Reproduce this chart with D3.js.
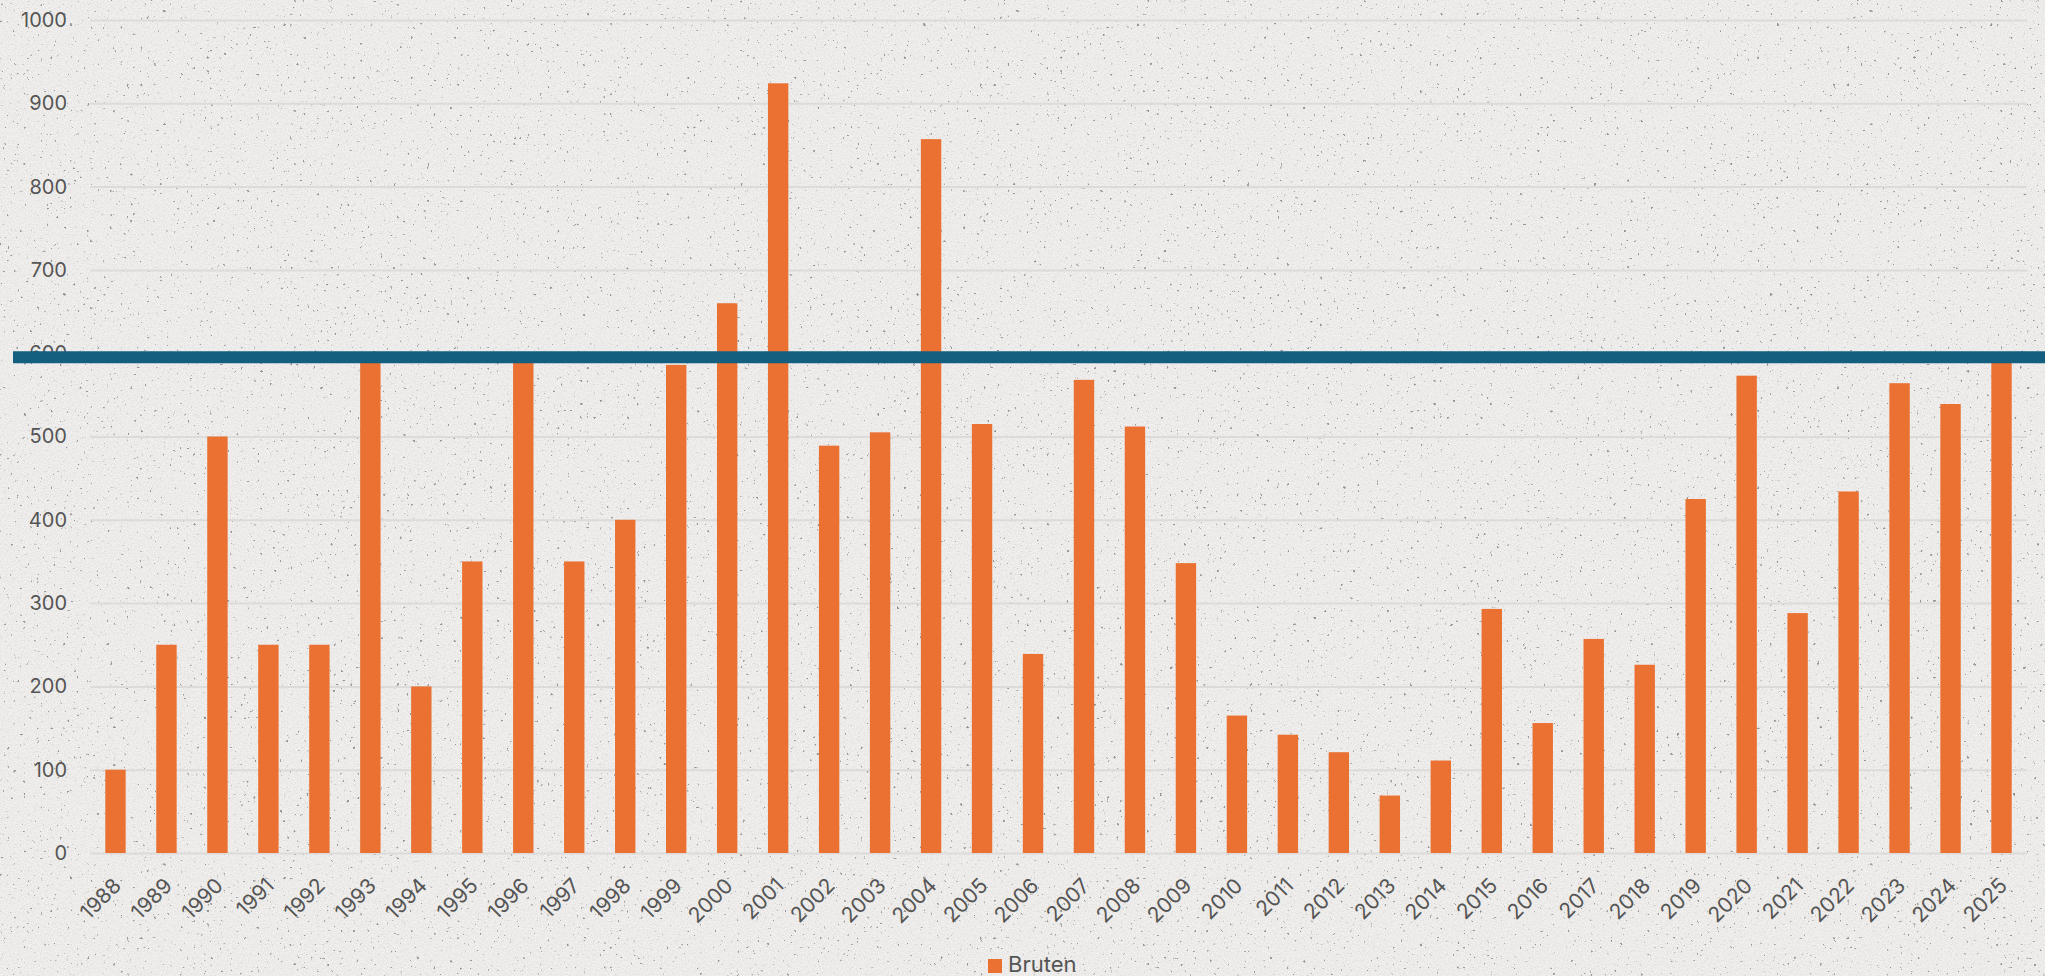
<!DOCTYPE html>
<html>
<head>
<meta charset="utf-8">
<script src="https://cdn.jsdelivr.net/npm/d3@7"></script>
<style>
  html, body { margin: 0; padding: 0; background: #f0efed; }
  svg { display: block; }
</style>
</head>
<body>
<svg id="chart"></svg>
<script>
const years = [
  '1988', '1989', '1990', '1991', '1992', '1993', '1994', '1995', '1996', '1997',
  '1998', '1999', '2000', '2001', '2002', '2003', '2004', '2005', '2006', '2007',
  '2008', '2009', '2010', '2011', '2012', '2013', '2014', '2015', '2016', '2017',
  '2018', '2019', '2020', '2021', '2022', '2023', '2024', '2025',
];
const bruten = [
  100, 250, 500, 250, 250, 600, 200, 350, 600, 350,
  400, 586, 660, 924, 489, 505, 857, 515, 239, 568,
  512, 348, 165, 142, 121, 69, 111, 293, 156, 257,
  226, 425, 573, 288, 434, 564, 539, 600,
];
const yTicks = [0, 100, 200, 300, 400, 500, 600, 700, 800, 900, 1000];
const targetLine = [595];
const seriesName = 'Bruten';

const svgWidth = 2045;
const svgHeight = 976;
const margin = { top: 20, right: 18, bottom: 123, left: 90 };
const fontFamily = 'Inter, "Liberation Sans", Arial, sans-serif';

const svg = d3.select('#chart')
    .attr('width', svgWidth)
    .attr('height', svgHeight);

// paper-like background
const defs = svg.append('defs');
const grain = defs.append('filter')
    .attr('id', 'grain')
    .attr('x', 0).attr('y', 0)
    .attr('width', '100%').attr('height', '100%');
grain.append('feTurbulence')
    .attr('type', 'fractalNoise')
    .attr('baseFrequency', 0.7)
    .attr('numOctaves', 3)
    .attr('seed', 7)
    .attr('result', 'noise');
grain.append('feColorMatrix')
    .attr('in', 'noise')
    .attr('type', 'matrix')
    .attr('values', '0 0 0 0 0.5  0 0 0 0 0.5  0 0 0 0 0.49  -0.8 0 0 0 0.46');

const specks = defs.append('filter')
    .attr('id', 'specks')
    .attr('x', 0).attr('y', 0)
    .attr('width', '100%').attr('height', '100%');
specks.append('feTurbulence')
    .attr('type', 'fractalNoise')
    .attr('baseFrequency', 0.3)
    .attr('numOctaves', 2)
    .attr('seed', 3)
    .attr('result', 'noise');
specks.append('feColorMatrix')
    .attr('in', 'noise')
    .attr('type', 'matrix')
    .attr('values', '0 0 0 0 0.3  0 0 0 0 0.3  0 0 0 0 0.3  12 0 0 0 -8.7');

svg.append('rect')
    .attr('width', svgWidth)
    .attr('height', svgHeight)
    .attr('fill', '#f0efed');
svg.append('rect')
    .attr('width', svgWidth)
    .attr('height', svgHeight)
    .attr('filter', 'url(#grain)');
svg.append('rect')
    .attr('width', svgWidth)
    .attr('height', svgHeight)
    .attr('filter', 'url(#specks)');

const x = d3.scaleBand()
    .domain(years)
    .range([margin.left, svgWidth - margin.right])
    .paddingInner(0.6)
    .paddingOuter(0.3);

const y = d3.scaleLinear()
    .domain([0, 1000])
    .range([svgHeight - margin.bottom, margin.top]);

// gridlines + y labels
const yAxis = svg.append('g')
    .attr('transform', `translate(${margin.left},0)`)
    .call(d3.axisLeft(y)
      .tickValues(yTicks)
      .tickSize(-(svgWidth - margin.left - margin.right))
      .tickPadding(23)
      .tickFormat(d3.format('d')));

yAxis.select('.domain').remove();
yAxis.selectAll('.tick line')
    .attr('stroke', '#dcdbd9')
    .attr('stroke-width', 2);
yAxis.selectAll('.tick text')
    .attr('fill', '#555')
    .attr('font-family', fontFamily)
    .attr('font-size', 20);

// bars
svg.append('g')
  .selectAll('rect')
  .data(bruten)
  .join('rect')
    .attr('x', (d, i) => x(years[i]))
    .attr('y', d => y(d))
    .attr('width', x.bandwidth())
    .attr('height', d => y(0) - y(d))
    .attr('fill', '#ea7132');

// x labels
const xAxis = svg.append('g')
    .attr('transform', `translate(0,${y(0)})`)
    .call(d3.axisBottom(x).tickSize(0).tickPadding(0));

xAxis.select('.domain').remove();
xAxis.selectAll('.tick text')
    .attr('fill', '#555')
    .attr('font-family', fontFamily)
    .attr('font-size', 21)
    .attr('text-anchor', 'end')
    .attr('dy', null)
    .attr('y', null)
    .attr('transform', 'translate(7,34) rotate(-45)');

// reference line
svg.append('g')
  .selectAll('line')
  .data(targetLine)
  .join('line')
    .attr('x1', 13)
    .attr('x2', svgWidth)
    .attr('y1', d => y(d))
    .attr('y2', d => y(d))
    .attr('stroke', '#145f80')
    .attr('stroke-width', 12);

// legend
const legend = svg.append('g')
    .attr('transform', 'translate(988,959)');

legend.append('rect')
    .attr('width', 14)
    .attr('height', 14)
    .attr('fill', '#ea7132');

legend.append('text')
    .attr('x', 20)
    .attr('y', 13)
    .attr('fill', '#555')
    .attr('font-family', fontFamily)
    .attr('font-size', 22)
    .text(seriesName);
</script>
</body>
</html>
